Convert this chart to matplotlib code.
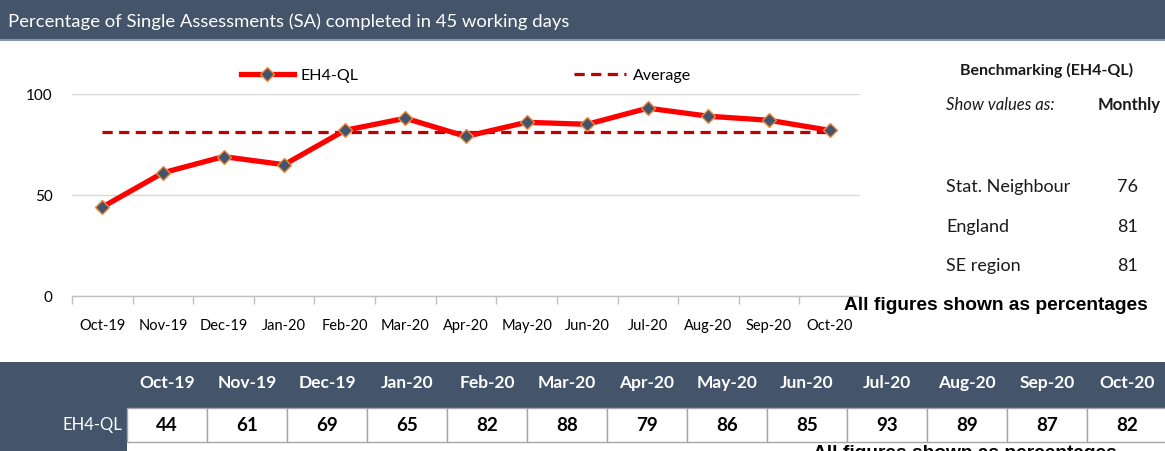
import matplotlib
matplotlib.use("Agg")
import matplotlib.pyplot as plt
from matplotlib.patches import Rectangle
from matplotlib.lines import Line2D

# ---------------- data ----------------
months = ["Oct-19", "Nov-19", "Dec-19", "Jan-20", "Feb-20", "Mar-20", "Apr-20",
          "May-20", "Jun-20", "Jul-20", "Aug-20", "Sep-20", "Oct-20"]
eh4_values = [44, 61, 69, 65, 82, 88, 79, 86, 85, 93, 89, 87, 82]
average_values = [81] * 13
y_ticks = [0, 50, 100]
bench_labels = ["Stat. Neighbour", "England", "SE region"]
bench_values = [76, 81, 81]
series_name = "EH4-QL"
avg_name = "Average"
title = "Percentage of Single Assessments (SA) completed in 45 working days"
note = "All figures shown as percentages"

# ---------------- style ----------------
W, H = 1165, 452
SLATE = "#44546A"
FONT = ["Lato", "DejaVu Sans"]
ARIAL = ["Liberation Sans", "DejaVu Sans"]
plt.rcParams["font.family"] = FONT

fig = plt.figure(figsize=(W / 100, H / 100), dpi=100)


def fx(x):
    return x / W


def fy(y):
    return 1 - y / H


def rect(x0, y0, x1, y1, **kw):
    fig.add_artist(Rectangle((fx(x0), fy(y1)), fx(x1) - fx(x0), fy(y0) - fy(y1),
                             transform=fig.transFigure, **kw))


# title bar
rect(0, 0, W, 42, facecolor=SLATE, edgecolor="none")
rect(0, 40, W, 42, facecolor="#8496B0", edgecolor="none")
fig.text(fx(8), fy(22), title, color="white", fontsize=13.3, va="center", ha="left")

# ---------------- chart ----------------
ax = fig.add_axes([fx(72), fy(297), fx(860) - fx(72), fy(95) - fy(297)])
x = list(range(len(months)))
ax.plot(x, average_values, color="#C00000", lw=2.3, ls=(0, (3.2, 2.0)), label=avg_name, zorder=2)
ax.plot(x, eh4_values, color="#FF0000", lw=3.8, marker="D", markersize=7.5,
        markerfacecolor=SLATE, markeredgecolor="#F08A3C", markeredgewidth=1.0,
        label=series_name, zorder=3)
ax.set_xlim(-0.5, len(months) - 0.5)
ax.set_ylim(0, 100)
ax.set_yticks(y_ticks)
ax.set_yticklabels([str(v) for v in y_ticks], fontsize=11)
ax.set_xticks(x)
ax.set_xticklabels(months, fontsize=10.5)
ax.set_xticks([i - 0.5 for i in range(len(months) + 1)], minor=True)
ax.tick_params(axis="x", which="major", length=0, pad=16)
ax.tick_params(axis="x", which="minor", length=6, color="#BFBFBF", width=1)
ax.tick_params(axis="y", length=0, pad=14)
for s in ["top", "right", "left"]:
    ax.spines[s].set_visible(False)
ax.spines["bottom"].set_color("#BFBFBF")
ax.spines["bottom"].set_linewidth(1)
ax.grid(axis="y", color="#D9D9D9", lw=1)
ax.set_axisbelow(True)
ax.patch.set_alpha(0)

h_series = Line2D([], [], color="#FF0000", lw=3.8, marker="D", markersize=7.5,
                  markerfacecolor=SLATE, markeredgecolor="#F08A3C")
h_avg = Line2D([], [], color="#C00000", lw=2.3, ls=(0, (3.2, 2.0)))
leg = ax.legend([h_series, h_avg], [series_name, avg_name], ncol=2, loc="center",
                bbox_to_anchor=(0.5, (fy(76) - fy(297)) / (fy(95) - fy(297))),
                frameon=False, fontsize=11.5, handlelength=3.3, handletextpad=0.4,
                columnspacing=13.5, borderaxespad=0)

# ---------------- right panel ----------------
fig.text(fx(1047), fy(70), "Benchmarking (EH4-QL)", fontsize=11.5, ha="center", va="center",
         color="#1a1a1a", fontweight="bold")
fig.text(fx(946), fy(105), "Show values as:", fontsize=12, ha="left", va="center",
         style="italic", color="#1a1a1a")
fig.text(fx(1129), fy(105), "Monthly", fontsize=12, ha="center", va="center",
         fontweight="bold", color="#1a1a1a")
for lab, val, yy in zip(bench_labels, bench_values, [187, 227, 266]):
    fig.text(fx(946), fy(yy), lab, fontsize=13, ha="left", va="center", color="#1a1a1a")
    fig.text(fx(1128), fy(yy), str(val), fontsize=13, ha="center", va="center", color="#1a1a1a")

fig.text(fx(996), fy(306), note, fontsize=13.8, ha="center",
         va="center", fontweight="bold", color="black", family=ARIAL)

# ---------------- table ----------------
x0, cw = 127, 80
rect(0, 363, W, H, facecolor=SLATE, edgecolor="none")
rect(x0, 443, W, H, facecolor="white", edgecolor="none")
for i, (m, v) in enumerate(zip(months, eh4_values)):
    cx = x0 + cw * (i + 0.5)
    fig.text(fx(cx), fy(383), m, color="white", fontsize=12.5, ha="center", va="center",
             fontweight="bold")
    rect(x0 + cw * i, 409, x0 + cw * (i + 1), 443, facecolor="white",
         edgecolor="#A6A6A6", lw=1)
    fig.text(fx(cx), fy(426), str(v), color="black", fontsize=13.5, ha="center",
             va="center", fontweight="bold")
fig.text(fx(122), fy(425), series_name, color="white", fontsize=12, ha="right", va="center")
fig.text(fx(965), fy(445), note, fontsize=13.8, ha="center",
         va="top", fontweight="bold", color="black", family=ARIAL)

fig.savefig("out.png", dpi=100)
